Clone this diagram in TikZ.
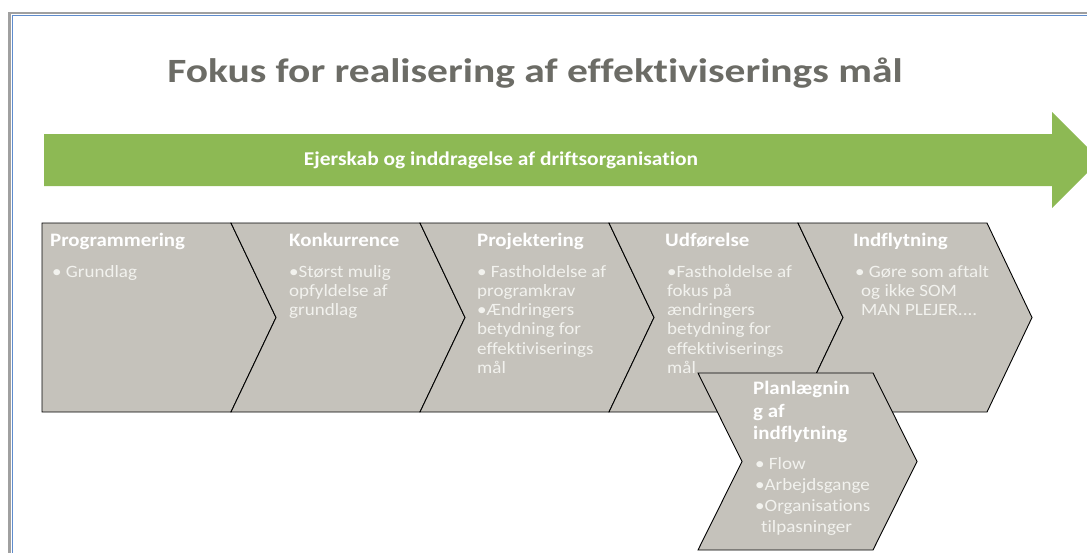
\documentclass[tikz,border=0pt]{standalone}
\usepackage{fontspec}
\setmainfont{Carlito}[FakeStretch=1.1,Ligatures=NoCommon]
\newfontfamily\titlefont{Carlito}[FakeStretch=1.22,Ligatures=NoCommon]

\definecolor{framegray}{RGB}{160,160,160}
\definecolor{frameblue}{RGB}{95,140,205}
\definecolor{titlegray}{RGB}{108,108,102}
\definecolor{bandgreen}{RGB}{141,185,84}
\definecolor{chevgray}{RGB}{197,194,187}
\definecolor{itemwhite}{RGB}{242,242,238}

\begin{document}
\begin{tikzpicture}[x=1pt,y=-1pt,
    phase/.style={fill=chevgray,draw=black,line width=0.9pt,line join=miter},
    head/.style={anchor=north west,inner sep=0pt,text=white,align=left,
                 font=\fontsize{19}{22.5}\selectfont\bfseries},
    item/.style={anchor=north west,inner sep=0pt,text=itemwhite,align=left,
                 font=\fontsize{17.3}{19.2}\selectfont}]
  \useasboundingbox (0,0) rectangle (1087,552);

  % frame
  \draw[framegray,line width=2.5pt] (9.5,560) -- (9.5,13) -- (1100,13);
  \draw[frameblue,line width=1.6pt] (12.3,560) -- (12.3,15.3) -- (1100,15.3);

  \node[anchor=base,inner sep=0pt,text=titlegray,font=\titlefont\fontsize{34}{40}\selectfont\bfseries]
        (titel) at (535,82) {Fokus for realisering af effektiviserings mål};

  % green band with arrow head
  \fill[bandgreen] (44,134) -- (1052,134) -- (1052,112) -- (1100,160) --
                   (1052,208) -- (1052,186) -- (44,186) -- cycle;
  \node[anchor=base,inner sep=0pt,text=white,font=\fontsize{19.5}{22}\selectfont\bfseries]
        (ejerskab) at (501,165) {Ejerskab og inddragelse af driftsorganisation};

  % phases
  \draw[phase] (42,223) -- (231,223) -- (276,317.5) -- (231,412) -- (42,412) -- cycle;
  \foreach \xl in {231,420,609,798}
  { \draw[phase] (\xl,223) -- ++(189,0) -- ++(45,94.5) -- ++(-45,94.5) --
                 ++(-189,0) -- ++(45,-94.5) -- cycle;
  }
  \draw[phase] (698,373) -- (873,373) -- (917,461.5) -- (873,550) --
               (698,550) -- (742,461.5) -- cycle;

  \node[head] (programmering) at (50,233) {Programmering};
  \node[item] (grundlag) at (52,265) {• Grundlag};

  \node[head] (konkurrence) at (289,233) {Konkurrence};
  \node[item] (opfyldelse) at (289,265) {•Størst mulig\\opfyldelse af\\grundlag};

  \node[head] (projektering) at (477,233) {Projektering};
  \node[item] (programkrav) at (477,265)
        {• Fastholdelse af\\programkrav\\•Ændringers\\betydning for\\effektiviserings\\mål};

  \node[head] (udfoerelse) at (665,233) {Udførelse};
  \node[item] (fokus) at (667,265)
        {•Fastholdelse af\\fokus på\\ændringers\\betydning for\\effektiviserings\\mål};

  \node[head] (indflytning) at (853,233) {Indflytning};
  \node[item] (aftalt) at (855,265)
        {• Gøre som aftalt\\\hspace*{6pt}og ikke SOM\\\hspace*{6pt}MAN PLEJER....};

  \node[head] (planlaegning) at (753,381) {Planlægnin\\g af\\indflytning};
  \node[item,font=\fontsize{17.3}{21}\selectfont] (flow) at (755,457)
        {• Flow\\•Arbejdsgange\\•Organisations\\\hspace*{6pt}tilpasninger};
\end{tikzpicture}
\end{document}
